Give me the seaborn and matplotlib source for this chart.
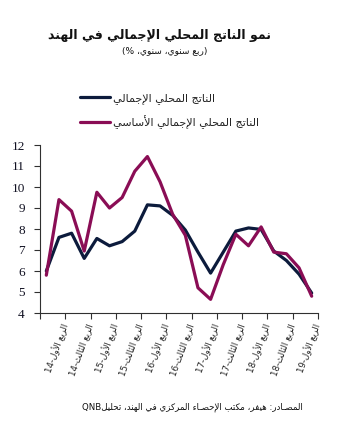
import numpy as np
import pandas as pd
import matplotlib
matplotlib.use("Agg")
import matplotlib.pyplot as plt
import seaborn as sns

# ---------------------------------------------------------------- data
quarters = [
    "الربع الأول-14", "الربع الثاني-14", "الربع الثالث-14", "الربع الرابع-14",
    "الربع الأول-15", "الربع الثاني-15", "الربع الثالث-15", "الربع الرابع-15",
    "الربع الأول-16", "الربع الثاني-16", "الربع الثالث-16", "الربع الرابع-16",
    "الربع الأول-17", "الربع الثاني-17", "الربع الثالث-17", "الربع الرابع-17",
    "الربع الأول-18", "الربع الثاني-18", "الربع الثالث-18", "الربع الرابع-18",
    "الربع الأول-19", "الربع الثاني-19",
]
gdp = [6.0, 7.6, 7.8, 6.6, 7.55, 7.2, 7.4, 7.9, 9.15, 9.1, 8.65,
       7.95, 6.9, 5.9, 6.9, 7.9, 8.05, 7.98, 6.95, 6.5, 5.85, 4.95]
core_gva = [5.8, 9.4, 8.85, 6.95, 9.75, 9.0, 9.5, 10.75, 11.45, 10.25, 8.7,
            7.7, 5.2, 4.65, 6.3, 7.75, 7.2, 8.1, 6.9, 6.82, 6.15, 4.8]
series_names = ["الناتج المحلي الإجمالي", "الناتج المحلي الإجمالي الأساسي"]
y_ticks = [4, 5, 6, 7, 8, 9, 10, 11, 12]

title = "نمو الناتج المحلي الإجمالي في الهند"
subtitle = "(ربع سنوي، سنوي، %)"
source = "المصـادر: هيفر، مكتب الإحصـاء المركزي في الهند، تحليلQNB"

NAVY = "#0c1b3c"
PLUM = "#8a0d55"

# ------------------------------------------------- Arabic text shaping
# Presentation-form base codes: isolated, final(+1), initial(+2), medial(+3)
_DUAL = {'ئ': 0xFE89, 'ب': 0xFE8F, 'ت': 0xFE95, 'ث': 0xFE99, 'ج': 0xFE9D,
         'ح': 0xFEA1, 'خ': 0xFEA5, 'س': 0xFEB1, 'ش': 0xFEB5, 'ص': 0xFEB9,
         'ض': 0xFEBD, 'ط': 0xFEC1, 'ظ': 0xFEC5, 'ع': 0xFEC9, 'غ': 0xFECD,
         'ف': 0xFED1, 'ق': 0xFED5, 'ك': 0xFED9, 'ل': 0xFEDD, 'م': 0xFEE1,
         'ن': 0xFEE5, 'ه': 0xFEE9, 'ي': 0xFEF1}
_RIGHT = {'آ': 0xFE81, 'أ': 0xFE83, 'ؤ': 0xFE85, 'إ': 0xFE87, 'ا': 0xFE8D,
          'ة': 0xFE93, 'د': 0xFEA9, 'ذ': 0xFEAB, 'ر': 0xFEAD, 'ز': 0xFEAF,
          'و': 0xFEED, 'ى': 0xFEEF}
_LAM_ALEF = {'آ': 0xFEF5, 'أ': 0xFEF7, 'إ': 0xFEF9, 'ا': 0xFEFB}
_TATWEEL = 'ـ'


def _joins_next(c):
    return c in _DUAL or c == _TATWEEL


def _joins_prev(c):
    return c in _DUAL or c in _RIGHT or c == _TATWEEL


def shape(s):
    out, i, n = [], 0, len(s)
    while i < n:
        c = s[i]
        prev = s[i - 1] if i > 0 else ''
        link_prev = bool(prev) and _joins_next(prev) and _joins_prev(c)
        if c == 'ل' and i + 1 < n and s[i + 1] in _LAM_ALEF:
            out.append(chr(_LAM_ALEF[s[i + 1]] + (1 if link_prev else 0)))
            i += 2
            continue
        nxt = s[i + 1] if i + 1 < n else ''
        link_next = _joins_next(c) and bool(nxt) and _joins_prev(nxt)
        if c in _DUAL:
            base = _DUAL[c]
            if link_prev and link_next:
                out.append(chr(base + 3))
            elif link_prev:
                out.append(chr(base + 1))
            elif link_next:
                out.append(chr(base + 2))
            else:
                out.append(chr(base))
        elif c in _RIGHT:
            out.append(chr(_RIGHT[c] + (1 if link_prev else 0)))
        else:
            out.append(c)
        i += 1
    return ''.join(out)


_MIRROR = str.maketrans('()', ')(')


def rtl(s):
    """Shape and reorder a right-to-left line for left-to-right drawing."""
    runs = []
    for ch in shape(s):
        is_ltr = ch.isascii() and ch.isalnum()
        if runs and runs[-1][1] == is_ltr:
            runs[-1][0] += ch
        else:
            runs.append([ch, is_ltr])
    return ''.join(t if l else t[::-1].translate(_MIRROR)
                   for t, l in reversed(runs))


# ---------------------------------------------------------------- frame
df = pd.DataFrame({
    "idx": list(range(len(quarters))) * 2,
    "value": gdp + core_gva,
    "series": [series_names[0]] * len(gdp) + [series_names[1]] * len(core_gva),
})

sns.set_theme(style="white")
plt.rcParams["font.family"] = ["DejaVu Sans"]

fig = plt.figure(figsize=(3.47, 4.34), dpi=100)
W, H = 347, 434
ax = fig.add_axes([40 / W, 1 - 313 / H, 278 / W, 168 / H])

sns.lineplot(data=df, x="idx", y="value", hue="series",
             hue_order=series_names, palette=[NAVY, PLUM],
             linewidth=2.3, ax=ax, legend=True)
for ln in ax.lines:
    ln.set_solid_joinstyle("round")

ax.set_xlim(-0.5, len(quarters) - 0.5)
ax.set_ylim(4, 12)
ax.set_xlabel("")
ax.set_ylabel("")

for side in ("top", "right"):
    ax.spines[side].set_visible(False)
for side in ("left", "bottom"):
    ax.spines[side].set_color("#303030")
    ax.spines[side].set_linewidth(0.8)

ax.set_yticks(y_ticks)
ax.set_yticklabels([str(v) for v in y_ticks], fontfamily="Liberation Serif",
                   fontsize=9.5, color="#111122")
ax.tick_params(axis="y", direction="out", length=4, width=0.8,
               color="#303030", pad=7, left=True)

xt = np.arange(-0.5, len(quarters), 2)
ax.set_xticks(xt)
ax.set_xticklabels([""] + [rtl(q) for q in quarters[0::2]], fontsize=6.2,
                   rotation=70, ha="right", va="center",
                   rotation_mode="anchor", color="#222222")
ax.tick_params(axis="x", direction="out", length=4, width=0.8,
               color="#303030", pad=4, bottom=True)

# legend
handles, labels = ax.get_legend_handles_labels()
ax.legend(handles, [rtl(l) for l in labels], loc="upper left",
          bbox_to_anchor=(80 / W, 1 - 93 / H), bbox_transform=fig.transFigure,
          frameon=False, fontsize=8, handlelength=2.7, handletextpad=0.3,
          labelspacing=0.95, borderpad=0, borderaxespad=0)

# titles and source
fig.text(159 / W, 1 - 35 / H, rtl(title), ha="center", va="center",
         fontsize=9, fontweight="bold", color="#111111")
fig.text(165 / W, 1 - 51 / H, rtl(subtitle), ha="center", va="center",
         fontsize=6.5, color="#111111")
fig.text(192 / W, 1 - 407 / H, rtl(source), ha="center", va="center",
         fontsize=6.2, color="#111111")

fig.savefig("out.png", dpi=100)
